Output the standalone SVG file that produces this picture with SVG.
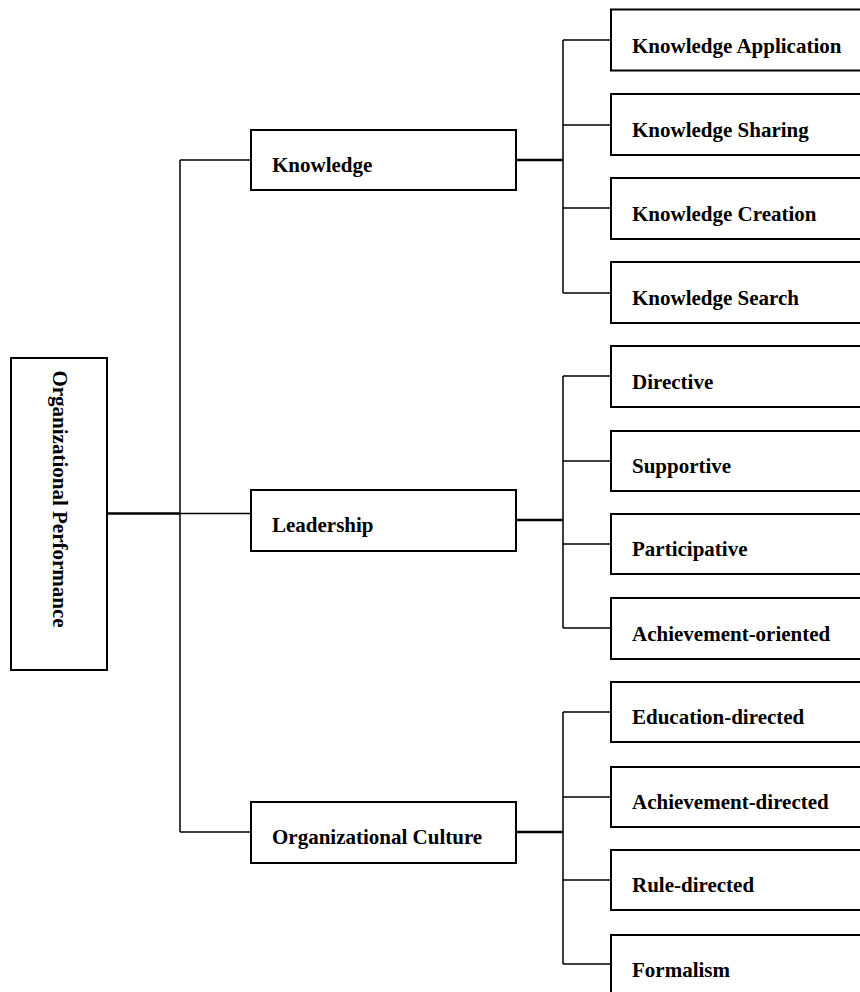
<svg xmlns="http://www.w3.org/2000/svg" width="860" height="992" viewBox="0 0 860 992">
<style>
.box{fill:#fff;stroke:#000;stroke-width:2}
.t{font-family:"Liberation Serif","Times New Roman",serif;font-weight:bold;font-size:21px;fill:#000}
.c{fill:none;stroke:#000;stroke-width:1.5}
.ck{fill:none;stroke:#000;stroke-width:2.5}
</style>
<rect width="860" height="992" fill="#fff"/>
<g id="connectors">
<path class="ck" d="M107 513.5H180"/>
<path class="c" d="M180 160V832M180 160H251M180 513.5H251M180 832H251"/>
<path class="ck" d="M516 160H563M516 520H563M516 832H563"/>
<path class="c" d="M563 40V293M563 40H611M563 125H611M563 208H611M563 293H611"/>
<path class="c" d="M563 376V628M563 376H611M563 461H611M563 544H611M563 628H611"/>
<path class="c" d="M563 712V964M563 712H611M563 797H611M563 880H611M563 964H611"/>
</g>
<g id="root"><rect class="box" x="11" y="358" width="96" height="312"/><text class="t" transform="translate(53,499) rotate(90)" text-anchor="middle">Organizational Performance</text></g>
<g id="knowledge"><rect class="box" x="251" y="130" width="265" height="60"/><text class="t" x="272" y="172">Knowledge</text></g>
<g id="leadership"><rect class="box" x="251" y="490" width="265" height="61"/><text class="t" x="272" y="532">Leadership</text></g>
<g id="culture"><rect class="box" x="251" y="802" width="265" height="61"/><text class="t" x="272" y="844">Organizational Culture</text></g>
<g id="k-app"><rect class="box" x="611" y="9.5" width="260" height="61"/><text class="t" x="632" y="52.5">Knowledge Application</text></g>
<g id="k-share"><rect class="box" x="611" y="94" width="260" height="61"/><text class="t" x="632" y="137">Knowledge Sharing</text></g>
<g id="k-create"><rect class="box" x="611" y="178" width="260" height="61"/><text class="t" x="632" y="220.5">Knowledge Creation</text></g>
<g id="k-search"><rect class="box" x="611" y="262" width="260" height="61"/><text class="t" x="632" y="304.5">Knowledge Search</text></g>
<g id="l-dir"><rect class="box" x="611" y="346" width="260" height="61"/><text class="t" x="632" y="388.5">Directive</text></g>
<g id="l-sup"><rect class="box" x="611" y="431" width="260" height="60"/><text class="t" x="632" y="473">Supportive</text></g>
<g id="l-part"><rect class="box" x="611" y="514" width="260" height="60"/><text class="t" x="632" y="556">Participative</text></g>
<g id="l-ach"><rect class="box" x="611" y="598" width="260" height="61"/><text class="t" x="632" y="640.5">Achievement-oriented</text></g>
<g id="c-edu"><rect class="box" x="611" y="682" width="260" height="60"/><text class="t" x="632" y="724">Education-directed</text></g>
<g id="c-ach"><rect class="box" x="611" y="767" width="260" height="60"/><text class="t" x="632" y="809">Achievement-directed</text></g>
<g id="c-rule"><rect class="box" x="611" y="850" width="260" height="60"/><text class="t" x="632" y="892">Rule-directed</text></g>
<g id="c-form"><rect class="box" x="611" y="935" width="260" height="70"/><text class="t" x="632" y="977">Formalism</text></g>
</svg>
